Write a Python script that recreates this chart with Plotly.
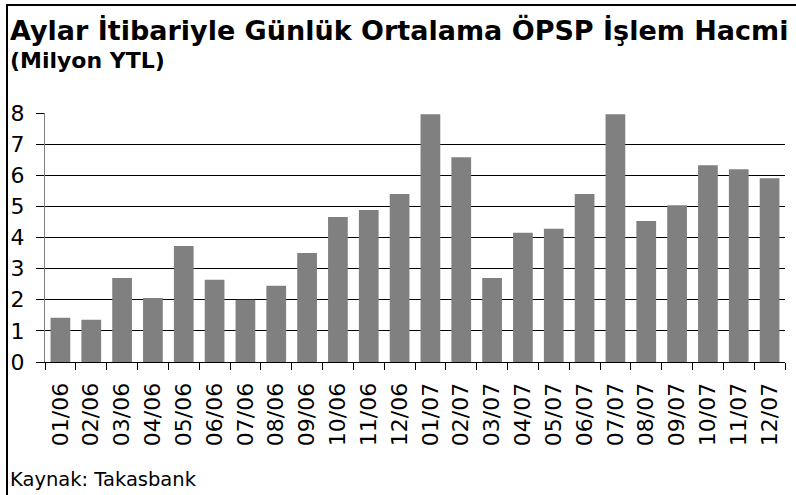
import plotly.graph_objects as go

# monthly labels (MM/YY)
months = ["01/06", "02/06", "03/06", "04/06", "05/06", "06/06", "07/06", "08/06",
          "09/06", "10/06", "11/06", "12/06", "01/07", "02/07", "03/07", "04/07",
          "05/07", "06/07", "07/07", "08/07", "09/07", "10/07", "11/07", "12/07"]
volume = [1.42, 1.36, 2.70, 2.06, 3.73, 2.64, 2.00, 2.45, 3.50, 4.66, 4.88, 5.40,
          7.96, 6.58, 2.70, 4.15, 4.28, 5.40, 7.96, 4.53, 5.04, 6.32, 6.19, 5.90]
y_ticks = [0, 1, 2, 3, 4, 5, 6, 7, 8]

W, H = 796, 495
L, R, T, B = 45, 11, 113, 133
FONT = "DejaVu Sans"


def px_x(x):
    return (x - L) / (W - L - R)


def px_y(y):
    return (H - B - y) / (H - T - B)


fig = go.Figure(go.Bar(x=months, y=volume, marker_color="#808080",
                       marker_line_width=0))

fig.update_layout(
    width=W, height=H,
    margin=dict(l=L, r=R, t=T, b=B, autoexpand=False),
    plot_bgcolor="white", paper_bgcolor="white",
    bargap=0.36, showlegend=False,
    font=dict(family=FONT, color="black"),
)
fig.update_xaxes(type="category", tickangle=-90, tickfont=dict(size=22),
                 ticks="outside", tickson="boundaries", ticklen=7,
                 tickcolor="black", ticklabelstandoff=11,
                 showline=True, linecolor="black",
                 linewidth=1, showgrid=False, automargin=False)
fig.update_yaxes(range=[0, 8], tickvals=y_ticks, tickfont=dict(size=22),
                 ticks="outside", ticklen=8, tickcolor="black",
                 ticklabelstandoff=7,
                 showgrid=True, gridcolor="black", gridwidth=1,
                 showline=True, linecolor="#808080", zeroline=False,
                 automargin=False)

# frame around the chart; only top and left edges fall inside the page
fig.add_shape(type="rect", xref="paper", yref="paper",
              x0=px_x(7), x1=px_x(W + 20), y0=px_y(5), y1=px_y(H + 20),
              line=dict(color="black", width=2), fillcolor="rgba(0,0,0,0)")

fig.add_annotation(text="<b>Aylar İtibariyle Günlük Ortalama ÖPSP İşlem Hacmi</b>",
                   xref="paper", yref="paper", x=px_x(8), y=px_y(12),
                   xanchor="left", yanchor="top", showarrow=False,
                   font=dict(size=27, family=FONT))
fig.add_annotation(text="<b>(Milyon YTL)</b>",
                   xref="paper", yref="paper", x=px_x(8), y=px_y(46),
                   xanchor="left", yanchor="top", showarrow=False,
                   font=dict(size=22, family=FONT))
fig.add_annotation(text="Kaynak: Takasbank",
                   xref="paper", yref="paper", x=px_x(8), y=px_y(466),
                   xanchor="left", yanchor="top", showarrow=False,
                   font=dict(size=19.5, family=FONT))

# page body margin would shift the figure by 8px
fig.write_html("out.html", config={"displayModeBar": False},
               post_script="document.body.style.margin='0';")
